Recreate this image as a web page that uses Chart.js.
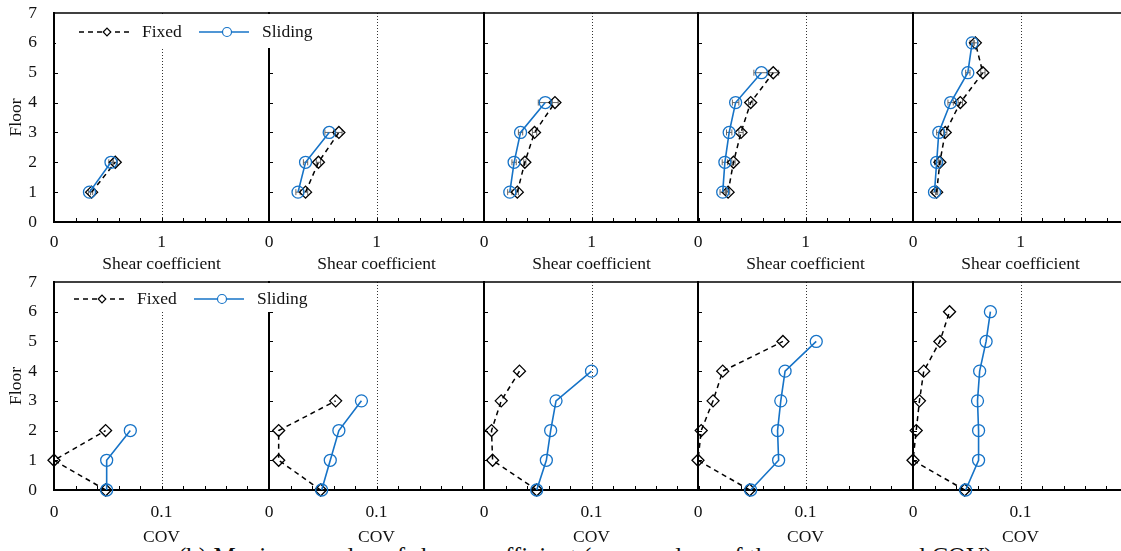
<!DOCTYPE html>
<html lang="en">
<head>
<meta charset="UTF-8">
<title>Shear coefficient and COV by floor</title>
<script src="https://cdn.jsdelivr.net/npm/chart.js"></script>
<style>
  html, body { margin: 0; padding: 0; background: #fff; }
  body { width: 1121px; height: 551px; overflow: hidden; position: relative; }
  .panel { position: absolute; }
  .caption { position: absolute; left: 178px; top: 544px; font: 25px/1 'Liberation Serif', 'Times New Roman', serif; color: #111; white-space: nowrap; }
</style>
</head>
<body>
<div class="caption">(b) Maximum value of shear coefficient (mean values of the responses and COV)</div>
<script>
const FONT = "'Liberation Serif', 'Times New Roman', serif";
const BLUE = '#1673c7';

const seriesNames = ['Fixed', 'Sliding'];
const floorsFromOne = [1, 2, 3, 4, 5, 6];
const floorsFromZero = [0, 1, 2, 3, 4, 5, 6];
const shearTickLabels = [0, 1];
const covTickLabels = [0, 0.1];

// top row: shear coefficient, floors 1..n
const shearFixed = [
  [0.35, 0.57],
  [0.34, 0.46, 0.65],
  [0.31, 0.38, 0.47, 0.66],
  [0.28, 0.33, 0.40, 0.49, 0.70],
  [0.22, 0.25, 0.30, 0.44, 0.65, 0.58]
];
const shearSliding = [
  [0.33, 0.53],
  [0.27, 0.34, 0.56],
  [0.24, 0.28, 0.34, 0.57],
  [0.23, 0.25, 0.29, 0.35, 0.59],
  [0.20, 0.22, 0.24, 0.35, 0.51, 0.55]
];
const shearFixedSd = [
  [0.01, 0.02],
  [0.02, 0.02, 0.03],
  [0.01, 0.01, 0.02, 0.03],
  [0.015, 0.015, 0.02, 0.02, 0.05],
  [0.01, 0.01, 0.015, 0.02, 0.02, 0.02]
];
const shearSlidingSd = [
  [0.01, 0.02],
  [0.02, 0.02, 0.04],
  [0.02, 0.02, 0.02, 0.065],
  [0.025, 0.025, 0.025, 0.03, 0.07],
  [0.02, 0.02, 0.02, 0.025, 0.02, 0.02]
];

// bottom row: COV, floors 0..n
const covFixed = [
  [0.048, 0.000, 0.048],
  [0.048, 0.009, 0.009, 0.062],
  [0.049, 0.008, 0.007, 0.016, 0.033],
  [0.048, 0.000, 0.003, 0.014, 0.023, 0.079],
  [0.048, 0.000, 0.003, 0.006, 0.010, 0.025, 0.034]
];
const covSliding = [
  [0.049, 0.049, 0.071],
  [0.049, 0.057, 0.065, 0.086],
  [0.049, 0.058, 0.062, 0.067, 0.100],
  [0.049, 0.075, 0.074, 0.077, 0.081, 0.110],
  [0.049, 0.061, 0.061, 0.060, 0.062, 0.068, 0.072]
];

const rows = [
  { top: 0, height: 275, padTop: 13, axisH: 53, tickPad: 10, titlePad: 0, xMax: 2, step: 0.2, ref: 1,
    title: 'Shear coefficient', labels: shearTickLabels, floors: floorsFromOne,
    fixed: shearFixed, sliding: shearSliding, fixedSd: shearFixedSd, slidingSd: shearSlidingSd,
    legend: { dx: 25, dy: 19, boxH: 34 } },
  { top: 268, height: 283, padTop: 14, axisH: 61, tickPad: 12, titlePad: 3, xMax: 0.2, step: 0.02, ref: 0.1,
    title: 'COV', labels: covTickLabels, floors: floorsFromZero,
    fixed: covFixed, sliding: covSliding, fixedSd: null, slidingSd: null,
    legend: { dx: 20, dy: 17, boxH: 29 } }
];
const panelLeft = [0, 215, 430, 644, 859];

function seg(ctx, x1, y1, x2, y2) {
  ctx.beginPath(); ctx.moveTo(x1, y1); ctx.lineTo(x2, y2); ctx.stroke();
}

const framePlugin = {
  id: 'frame',
  beforeDatasetsDraw(chart, args, opts) {
    const { ctx, chartArea: a, scales: { x, y } } = chart;
    ctx.save();
    // dotted reference line
    ctx.strokeStyle = '#333';
    ctx.lineWidth = 1;
    ctx.setLineDash([1, 2]);
    const rx = Math.round(x.getPixelForValue(opts.ref)) + 0.5;
    seg(ctx, rx, a.top, rx, a.bottom);
    ctx.setLineDash([]);
    // top border
    ctx.strokeStyle = '#000';
    ctx.lineWidth = 1.5;
    seg(ctx, a.left, a.top, a.right, a.top);
    // inward ticks
    ctx.lineWidth = 1;
    x.ticks.forEach(t => {
      if (t.value <= 0) return;
      const px = Math.round(x.getPixelForValue(t.value)) + 0.5;
      seg(ctx, px, a.bottom, px, a.bottom - 4);
    });
    y.ticks.forEach(t => {
      if (t.value <= 0 || t.value >= 7) return;
      const py = Math.round(y.getPixelForValue(t.value)) + 0.5;
      seg(ctx, a.left, py, a.left + 4, py);
    });
    // horizontal error bars
    ctx.strokeStyle = '#666';
    chart.data.datasets.forEach(ds => {
      if (!ds.errorX) return;
      ds.data.forEach((p, k) => {
        const e = ds.errorX[k];
        const x1 = x.getPixelForValue(p.x - e), x2 = x.getPixelForValue(p.x + e);
        const py = y.getPixelForValue(p.y);
        seg(ctx, x1, py, x2, py);
        seg(ctx, x1, py - 3, x1, py + 3);
        seg(ctx, x2, py - 3, x2, py + 3);
      });
    });
    ctx.restore();
  }
};

const boxLegend = {
  id: 'boxLegend',
  afterDraw(chart, args, opts) {
    if (!opts.show) return;
    const { ctx, chartArea: a } = chart;
    ctx.save();
    ctx.fillStyle = '#fff';
    ctx.fillRect(a.left + 2, a.top + 1, 265, opts.boxH);
    const yc = a.top + opts.dy;
    chart.data.datasets.forEach((ds, k) => {
      const x0 = a.left + opts.dx + k * 120;
      ctx.strokeStyle = ds.borderColor;
      ctx.lineWidth = ds.borderWidth;
      ctx.setLineDash(ds.borderDash || []);
      seg(ctx, x0, yc, x0 + 50, yc);
      ctx.setLineDash([]);
      ctx.fillStyle = '#fff';
      ctx.lineWidth = 1.2;
      Chart.helpers.drawPoint(ctx, { pointStyle: ds.pointStyle, radius: ds.pointStyle === 'circle' ? 4.5 : 3.8, borderWidth: 1.2 }, x0 + 28, yc);
      ctx.fillStyle = '#111';
      ctx.font = '17.5px ' + FONT;
      ctx.textBaseline = 'middle';
      ctx.textAlign = 'left';
      ctx.fillText(ds.label, x0 + 63, yc);
    });
    ctx.restore();
  }
};

function makePanel(row, i) {
  const box = document.createElement('div');
  box.className = 'panel';
  box.style.left = panelLeft[i] + 'px';
  box.style.top = row.top + 'px';
  box.style.width = '329px';
  box.style.height = row.height + 'px';
  if (i === 0) box.style.zIndex = 2;
  const canvas = document.createElement('canvas');
  box.appendChild(canvas);
  document.body.appendChild(box);

  const fixed = row.fixed[i], sliding = row.sliding[i];
  const toPoints = vals => vals.map((v, k) => ({ x: v, y: row.floors[k] }));
  const font = { family: FONT, size: 17.5 };

  new Chart(canvas, {
    type: 'line',
    data: {
      datasets: [{
        label: seriesNames[0],
        data: toPoints(fixed),
        errorX: row.fixedSd ? row.fixedSd[i] : null,
        borderColor: '#000',
        borderWidth: 1.5,
        borderDash: [5, 4],
        pointStyle: 'rectRot',
        pointRadius: 6,
        pointBorderWidth: 1.3,
        pointBackgroundColor: 'rgba(0,0,0,0)',
        pointBorderColor: '#000',
        clip: false,
        order: 1
      }, {
        label: seriesNames[1],
        data: toPoints(sliding),
        errorX: row.slidingSd ? row.slidingSd[i] : null,
        borderColor: BLUE,
        borderWidth: 1.6,
        pointStyle: 'circle',
        pointRadius: 6,
        pointBorderWidth: 1.3,
        pointBackgroundColor: 'rgba(0,0,0,0)',
        pointBorderColor: BLUE,
        clip: false,
        order: 0
      }]
    },
    options: {
      responsive: true,
      maintainAspectRatio: false,
      animation: false,
      events: [],
      layout: { autoPadding: false, padding: { top: row.padTop, right: 60, left: 0, bottom: 0 } },
      plugins: {
        legend: { display: false },
        tooltip: { enabled: false },
        frame: { ref: row.ref },
        boxLegend: Object.assign({ show: i === 0 }, row.legend)
      },
      scales: {
        x: {
          type: 'linear',
          min: 0,
          max: row.xMax,
          grid: { display: false, drawTicks: false },
          border: { display: true, color: '#000', width: 2 },
          ticks: {
            stepSize: row.step,
            autoSkip: false,
            maxRotation: 0,
            padding: row.tickPad,
            color: '#111',
            font: font,
            callback: v => {
              const hit = row.labels.find(l => Math.abs(l - v) < 1e-9);
              return hit === undefined ? '' : String(hit);
            }
          },
          title: { display: true, text: row.title, color: '#111', font: font, padding: { top: 0, bottom: row.titlePad } },
          afterFit: s => { s.height = row.axisH; s.paddingLeft = 0; s.paddingRight = 0; }
        },
        y: {
          type: 'linear',
          min: 0,
          max: 7,
          grid: { display: false, drawTicks: false },
          border: { display: true, color: '#000', width: 2 },
          ticks: { stepSize: 1, display: i === 0, padding: 17, color: '#111', font: font },
          title: { display: i === 0, text: 'Floor', color: '#111', font: font, padding: { top: 6, bottom: 0 } },
          afterFit: s => { s.width = 54; s.paddingTop = 0; s.paddingBottom = 0; }
        }
      }
    },
    plugins: [framePlugin, boxLegend]
  });
}

rows.forEach(row => panelLeft.forEach((_, i) => makePanel(row, i)));
</script>
</body>
</html>
